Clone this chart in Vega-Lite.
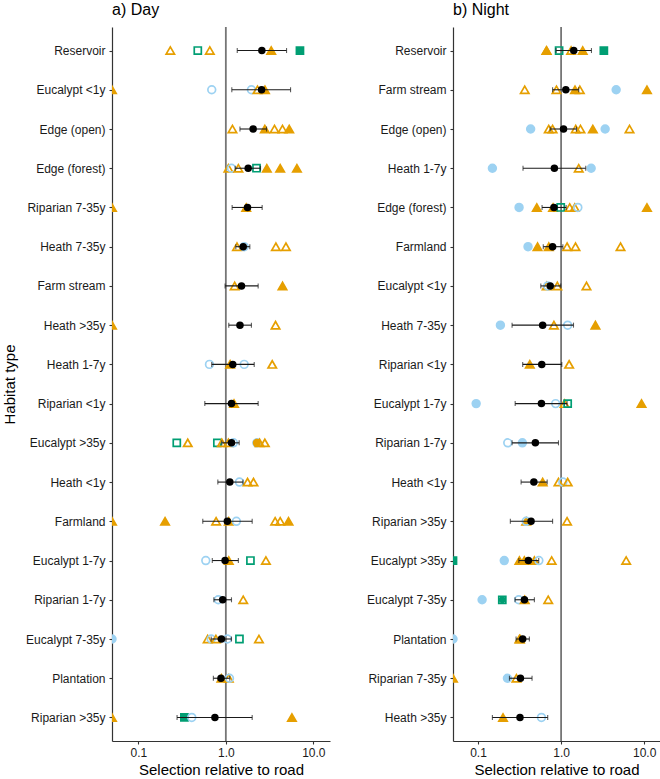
{
  "$schema": "https://vega.github.io/schema/vega-lite/v6.json",
  "background": "white",
  "padding": {"left": 2, "top": 2, "right": 0, "bottom": 0},
  "bounds": "flush",
  "spacing": 123,
  "config": {
    "view": {"stroke": null},
    "font": "Liberation Sans",
    "axis": {"grid": false, "domainColor": "#333333", "domainWidth": 1.2, "tickColor": "#333333", "tickWidth": 1.1, "tickSize": 3, "labelColor": "#1a1a1a", "labelFontSize": 12, "labelFont": "Liberation Sans", "titleFont": "Liberation Sans", "titleFontSize": 15, "titleFontWeight": "normal", "titleColor": "#000000"},
    "title": {"fontSize": 16, "fontWeight": "normal", "anchor": "start", "frame": "group", "font": "Liberation Sans", "color": "#000000", "offset": 8}
  },
  "resolve": {"scale": {"y": "independent", "x": "independent"}},
  "datasets": {
    "day": [
      {"h": "Reservoir", "v": 0.232, "sp": "tri", "k": "open"},
      {"h": "Reservoir", "v": 0.478, "sp": "sq", "k": "open"},
      {"h": "Reservoir", "v": 0.656, "sp": "tri", "k": "open"},
      {"h": "Reservoir", "v": 3.30, "sp": "tri", "k": "filled"},
      {"h": "Reservoir", "v": 7.03, "sp": "sq", "k": "filled"},
      {"h": "Eucalypt <1y", "v": 0.05, "sp": "tri", "k": "filled"},
      {"h": "Eucalypt <1y", "v": 0.69, "sp": "circ", "k": "open"},
      {"h": "Eucalypt <1y", "v": 1.96, "sp": "circ", "k": "open"},
      {"h": "Eucalypt <1y", "v": 2.30, "sp": "tri", "k": "open"},
      {"h": "Eucalypt <1y", "v": 2.80, "sp": "tri", "k": "filled"},
      {"h": "Edge (open)", "v": 1.19, "sp": "tri", "k": "open"},
      {"h": "Edge (open)", "v": 2.79, "sp": "tri", "k": "filled"},
      {"h": "Edge (open)", "v": 3.60, "sp": "tri", "k": "open"},
      {"h": "Edge (open)", "v": 4.44, "sp": "tri", "k": "open"},
      {"h": "Edge (open)", "v": 5.30, "sp": "tri", "k": "filled"},
      {"h": "Edge (forest)", "v": 1.07, "sp": "tri", "k": "open"},
      {"h": "Edge (forest)", "v": 1.16, "sp": "circ", "k": "open"},
      {"h": "Edge (forest)", "v": 1.39, "sp": "tri", "k": "open"},
      {"h": "Edge (forest)", "v": 2.24, "sp": "sq", "k": "open"},
      {"h": "Edge (forest)", "v": 2.94, "sp": "tri", "k": "filled"},
      {"h": "Edge (forest)", "v": 4.18, "sp": "tri", "k": "filled"},
      {"h": "Edge (forest)", "v": 6.49, "sp": "tri", "k": "filled"},
      {"h": "Riparian 7-35y", "v": 0.05, "sp": "tri", "k": "filled"},
      {"h": "Riparian 7-35y", "v": 1.71, "sp": "tri", "k": "filled"},
      {"h": "Heath 7-35y", "v": 1.34, "sp": "tri", "k": "open"},
      {"h": "Heath 7-35y", "v": 1.62, "sp": "circ", "k": "open"},
      {"h": "Heath 7-35y", "v": 3.73, "sp": "tri", "k": "open"},
      {"h": "Heath 7-35y", "v": 4.86, "sp": "tri", "k": "open"},
      {"h": "Farm stream", "v": 1.26, "sp": "tri", "k": "open"},
      {"h": "Farm stream", "v": 4.44, "sp": "tri", "k": "filled"},
      {"h": "Heath >35y", "v": 0.05, "sp": "tri", "k": "filled"},
      {"h": "Heath >35y", "v": 3.70, "sp": "tri", "k": "open"},
      {"h": "Heath 1-7y", "v": 0.65, "sp": "circ", "k": "open"},
      {"h": "Heath 1-7y", "v": 1.12, "sp": "tri", "k": "filled"},
      {"h": "Heath 1-7y", "v": 1.62, "sp": "circ", "k": "open"},
      {"h": "Heath 1-7y", "v": 3.39, "sp": "tri", "k": "open"},
      {"h": "Riparian <1y", "v": 1.24, "sp": "tri", "k": "filled"},
      {"h": "Eucalypt >35y", "v": 0.275, "sp": "sq", "k": "open"},
      {"h": "Eucalypt >35y", "v": 0.367, "sp": "tri", "k": "open"},
      {"h": "Eucalypt >35y", "v": 0.80, "sp": "sq", "k": "open"},
      {"h": "Eucalypt >35y", "v": 0.90, "sp": "tri", "k": "open"},
      {"h": "Eucalypt >35y", "v": 1.07, "sp": "tri", "k": "open"},
      {"h": "Eucalypt >35y", "v": 1.22, "sp": "circ", "k": "open"},
      {"h": "Eucalypt >35y", "v": 2.26, "sp": "circ", "k": "open"},
      {"h": "Eucalypt >35y", "v": 2.26, "sp": "odot", "k": "filled"},
      {"h": "Eucalypt >35y", "v": 2.43, "sp": "tri", "k": "open"},
      {"h": "Eucalypt >35y", "v": 2.79, "sp": "tri", "k": "open"},
      {"h": "Heath <1y", "v": 1.43, "sp": "circ", "k": "open"},
      {"h": "Heath <1y", "v": 1.77, "sp": "tri", "k": "open"},
      {"h": "Heath <1y", "v": 2.07, "sp": "tri", "k": "open"},
      {"h": "Farmland", "v": 0.05, "sp": "tri", "k": "filled"},
      {"h": "Farmland", "v": 0.202, "sp": "tri", "k": "filled"},
      {"h": "Farmland", "v": 0.774, "sp": "tri", "k": "open"},
      {"h": "Farmland", "v": 1.08, "sp": "tri", "k": "filled"},
      {"h": "Farmland", "v": 1.32, "sp": "circ", "k": "open"},
      {"h": "Farmland", "v": 3.66, "sp": "tri", "k": "open"},
      {"h": "Farmland", "v": 4.18, "sp": "tri", "k": "open"},
      {"h": "Farmland", "v": 5.20, "sp": "tri", "k": "filled"},
      {"h": "Eucalypt 1-7y", "v": 0.59, "sp": "circ", "k": "open"},
      {"h": "Eucalypt 1-7y", "v": 1.08, "sp": "tri", "k": "filled"},
      {"h": "Eucalypt 1-7y", "v": 1.91, "sp": "sq", "k": "open"},
      {"h": "Eucalypt 1-7y", "v": 2.87, "sp": "tri", "k": "open"},
      {"h": "Riparian 1-7y", "v": 0.82, "sp": "circ", "k": "open"},
      {"h": "Riparian 1-7y", "v": 1.58, "sp": "tri", "k": "open"},
      {"h": "Eucalypt 7-35y", "v": 0.05, "sp": "circ", "k": "filled"},
      {"h": "Eucalypt 7-35y", "v": 0.62, "sp": "tri", "k": "open"},
      {"h": "Eucalypt 7-35y", "v": 0.68, "sp": "circ", "k": "open"},
      {"h": "Eucalypt 7-35y", "v": 0.77, "sp": "tri", "k": "open"},
      {"h": "Eucalypt 7-35y", "v": 1.04, "sp": "circ", "k": "open"},
      {"h": "Eucalypt 7-35y", "v": 1.43, "sp": "sq", "k": "open"},
      {"h": "Eucalypt 7-35y", "v": 2.39, "sp": "tri", "k": "open"},
      {"h": "Plantation", "v": 0.89, "sp": "tri", "k": "filled"},
      {"h": "Plantation", "v": 1.08, "sp": "tri", "k": "open"},
      {"h": "Plantation", "v": 1.10, "sp": "circ", "k": "open"},
      {"h": "Riparian >35y", "v": 0.05, "sp": "tri", "k": "filled"},
      {"h": "Riparian >35y", "v": 0.336, "sp": "sq", "k": "filled"},
      {"h": "Riparian >35y", "v": 0.408, "sp": "circ", "k": "open"},
      {"h": "Riparian >35y", "v": 5.69, "sp": "tri", "k": "filled"}
    ],
    "dayMean": [
      {"h": "Reservoir", "m": 2.58, "lo": 1.35, "hi": 4.94},
      {"h": "Eucalypt <1y", "m": 2.56, "lo": 1.17, "hi": 5.49},
      {"h": "Edge (open)", "m": 2.05, "lo": 1.45, "hi": 2.92},
      {"h": "Edge (forest)", "m": 1.80, "lo": 1.28, "hi": 2.49},
      {"h": "Riparian 7-35y", "m": 1.77, "lo": 1.18, "hi": 2.60},
      {"h": "Heath 7-35y", "m": 1.58, "lo": 1.30, "hi": 1.88},
      {"h": "Farm stream", "m": 1.51, "lo": 0.98, "hi": 2.34},
      {"h": "Heath >35y", "m": 1.45, "lo": 1.08, "hi": 1.96},
      {"h": "Heath 1-7y", "m": 1.20, "lo": 0.69, "hi": 2.11},
      {"h": "Riparian <1y", "m": 1.16, "lo": 0.575, "hi": 2.34},
      {"h": "Eucalypt >35y", "m": 1.16, "lo": 0.90, "hi": 1.42},
      {"h": "Heath <1y", "m": 1.11, "lo": 0.81, "hi": 1.57},
      {"h": "Farmland", "m": 1.04, "lo": 0.545, "hi": 2.0},
      {"h": "Eucalypt 1-7y", "m": 0.98, "lo": 0.70, "hi": 1.39},
      {"h": "Riparian 1-7y", "m": 0.92, "lo": 0.73, "hi": 1.16},
      {"h": "Eucalypt 7-35y", "m": 0.89, "lo": 0.68, "hi": 1.16},
      {"h": "Plantation", "m": 0.88, "lo": 0.72, "hi": 1.11},
      {"h": "Riparian >35y", "m": 0.75, "lo": 0.277, "hi": 2.0}
    ],
    "night": [
      {"h": "Reservoir", "v": 0.666, "sp": "tri", "k": "filled"},
      {"h": "Reservoir", "v": 0.67, "sp": "tri", "k": "open"},
      {"h": "Reservoir", "v": 0.946, "sp": "sq", "k": "open"},
      {"h": "Reservoir", "v": 1.32, "sp": "tri", "k": "open"},
      {"h": "Reservoir", "v": 1.82, "sp": "tri", "k": "filled"},
      {"h": "Reservoir", "v": 3.27, "sp": "sq", "k": "filled"},
      {"h": "Farm stream", "v": 0.365, "sp": "tri", "k": "open"},
      {"h": "Farm stream", "v": 0.88, "sp": "tri", "k": "open"},
      {"h": "Farm stream", "v": 1.47, "sp": "tri", "k": "filled"},
      {"h": "Farm stream", "v": 1.68, "sp": "tri", "k": "open"},
      {"h": "Farm stream", "v": 4.60, "sp": "circ", "k": "filled"},
      {"h": "Farm stream", "v": 10.8, "sp": "tri", "k": "filled"},
      {"h": "Edge (open)", "v": 0.43, "sp": "circ", "k": "filled"},
      {"h": "Edge (open)", "v": 0.71, "sp": "tri", "k": "open"},
      {"h": "Edge (open)", "v": 0.79, "sp": "tri", "k": "open"},
      {"h": "Edge (open)", "v": 1.50, "sp": "tri", "k": "open"},
      {"h": "Edge (open)", "v": 1.71, "sp": "tri", "k": "open"},
      {"h": "Edge (open)", "v": 2.41, "sp": "tri", "k": "filled"},
      {"h": "Edge (open)", "v": 3.39, "sp": "circ", "k": "filled"},
      {"h": "Edge (open)", "v": 6.66, "sp": "tri", "k": "open"},
      {"h": "Heath 1-7y", "v": 0.149, "sp": "circ", "k": "filled"},
      {"h": "Heath 1-7y", "v": 1.63, "sp": "tri", "k": "open"},
      {"h": "Heath 1-7y", "v": 2.30, "sp": "circ", "k": "filled"},
      {"h": "Edge (forest)", "v": 0.312, "sp": "circ", "k": "filled"},
      {"h": "Edge (forest)", "v": 0.51, "sp": "tri", "k": "filled"},
      {"h": "Edge (forest)", "v": 0.80, "sp": "tri", "k": "filled"},
      {"h": "Edge (forest)", "v": 0.99, "sp": "sq", "k": "open"},
      {"h": "Edge (forest)", "v": 1.27, "sp": "tri", "k": "open"},
      {"h": "Edge (forest)", "v": 1.46, "sp": "tri", "k": "open"},
      {"h": "Edge (forest)", "v": 1.59, "sp": "circ", "k": "open"},
      {"h": "Edge (forest)", "v": 10.8, "sp": "tri", "k": "filled"},
      {"h": "Farmland", "v": 0.40, "sp": "circ", "k": "filled"},
      {"h": "Farmland", "v": 0.52, "sp": "tri", "k": "filled"},
      {"h": "Farmland", "v": 0.71, "sp": "tri", "k": "filled"},
      {"h": "Farmland", "v": 1.18, "sp": "tri", "k": "open"},
      {"h": "Farmland", "v": 1.49, "sp": "tri", "k": "open"},
      {"h": "Farmland", "v": 5.19, "sp": "tri", "k": "open"},
      {"h": "Eucalypt <1y", "v": 0.67, "sp": "tri", "k": "open"},
      {"h": "Eucalypt <1y", "v": 0.69, "sp": "circ", "k": "open"},
      {"h": "Eucalypt <1y", "v": 0.90, "sp": "tri", "k": "open"},
      {"h": "Eucalypt <1y", "v": 2.02, "sp": "tri", "k": "open"},
      {"h": "Heath 7-35y", "v": 0.186, "sp": "circ", "k": "filled"},
      {"h": "Heath 7-35y", "v": 0.82, "sp": "tri", "k": "open"},
      {"h": "Heath 7-35y", "v": 1.20, "sp": "circ", "k": "open"},
      {"h": "Heath 7-35y", "v": 2.59, "sp": "tri", "k": "filled"},
      {"h": "Riparian <1y", "v": 0.42, "sp": "tri", "k": "filled"},
      {"h": "Riparian <1y", "v": 1.25, "sp": "tri", "k": "open"},
      {"h": "Eucalypt 1-7y", "v": 0.095, "sp": "circ", "k": "filled"},
      {"h": "Eucalypt 1-7y", "v": 0.86, "sp": "circ", "k": "open"},
      {"h": "Eucalypt 1-7y", "v": 1.10, "sp": "tri", "k": "open"},
      {"h": "Eucalypt 1-7y", "v": 1.20, "sp": "sq", "k": "open"},
      {"h": "Eucalypt 1-7y", "v": 9.29, "sp": "tri", "k": "filled"},
      {"h": "Riparian 1-7y", "v": 0.228, "sp": "circ", "k": "open"},
      {"h": "Riparian 1-7y", "v": 0.342, "sp": "circ", "k": "filled"},
      {"h": "Heath <1y", "v": 0.60, "sp": "tri", "k": "filled"},
      {"h": "Heath <1y", "v": 0.93, "sp": "tri", "k": "open"},
      {"h": "Heath <1y", "v": 1.05, "sp": "circ", "k": "open"},
      {"h": "Heath <1y", "v": 1.20, "sp": "tri", "k": "open"},
      {"h": "Riparian >35y", "v": 0.38, "sp": "tri", "k": "filled"},
      {"h": "Riparian >35y", "v": 0.38, "sp": "circ", "k": "open"},
      {"h": "Riparian >35y", "v": 1.18, "sp": "tri", "k": "open"},
      {"h": "Eucalypt >35y", "v": 0.05, "sp": "sq", "k": "filled"},
      {"h": "Eucalypt >35y", "v": 0.207, "sp": "circ", "k": "filled"},
      {"h": "Eucalypt >35y", "v": 0.315, "sp": "tri", "k": "filled"},
      {"h": "Eucalypt >35y", "v": 0.361, "sp": "tri", "k": "filled"},
      {"h": "Eucalypt >35y", "v": 0.477, "sp": "tri", "k": "filled"},
      {"h": "Eucalypt >35y", "v": 0.54, "sp": "circ", "k": "open"},
      {"h": "Eucalypt >35y", "v": 0.77, "sp": "tri", "k": "open"},
      {"h": "Eucalypt >35y", "v": 6.07, "sp": "tri", "k": "open"},
      {"h": "Eucalypt 7-35y", "v": 0.112, "sp": "circ", "k": "filled"},
      {"h": "Eucalypt 7-35y", "v": 0.196, "sp": "sq", "k": "open"},
      {"h": "Eucalypt 7-35y", "v": 0.196, "sp": "gdot", "k": "filled"},
      {"h": "Eucalypt 7-35y", "v": 0.309, "sp": "circ", "k": "open"},
      {"h": "Eucalypt 7-35y", "v": 0.365, "sp": "tri", "k": "filled"},
      {"h": "Eucalypt 7-35y", "v": 0.70, "sp": "tri", "k": "open"},
      {"h": "Plantation", "v": 0.05, "sp": "circ", "k": "filled"},
      {"h": "Plantation", "v": 0.315, "sp": "tri", "k": "filled"},
      {"h": "Plantation", "v": 0.32, "sp": "tri", "k": "open"},
      {"h": "Riparian 7-35y", "v": 0.05, "sp": "tri", "k": "filled"},
      {"h": "Riparian 7-35y", "v": 0.226, "sp": "circ", "k": "filled"},
      {"h": "Riparian 7-35y", "v": 0.29, "sp": "tri", "k": "open"},
      {"h": "Heath >35y", "v": 0.20, "sp": "tri", "k": "filled"},
      {"h": "Heath >35y", "v": 0.58, "sp": "circ", "k": "open"}
    ],
    "nightMean": [
      {"h": "Reservoir", "m": 1.42, "lo": 0.87, "hi": 2.32},
      {"h": "Farm stream", "m": 1.14, "lo": 0.79, "hi": 1.63},
      {"h": "Edge (open)", "m": 1.07, "lo": 0.74, "hi": 1.53},
      {"h": "Heath 1-7y", "m": 0.83, "lo": 0.348, "hi": 1.98},
      {"h": "Edge (forest)", "m": 0.82, "lo": 0.59, "hi": 1.15},
      {"h": "Farmland", "m": 0.79, "lo": 0.61, "hi": 1.05},
      {"h": "Eucalypt <1y", "m": 0.74, "lo": 0.57, "hi": 0.99},
      {"h": "Heath 7-35y", "m": 0.60, "lo": 0.257, "hi": 1.41},
      {"h": "Riparian <1y", "m": 0.585, "lo": 0.345, "hi": 1.02},
      {"h": "Eucalypt 1-7y", "m": 0.58, "lo": 0.28, "hi": 1.18},
      {"h": "Riparian 1-7y", "m": 0.49, "lo": 0.257, "hi": 0.93},
      {"h": "Heath <1y", "m": 0.47, "lo": 0.33, "hi": 0.68},
      {"h": "Riparian >35y", "m": 0.435, "lo": 0.245, "hi": 0.79},
      {"h": "Eucalypt >35y", "m": 0.404, "lo": 0.31, "hi": 0.538},
      {"h": "Eucalypt 7-35y", "m": 0.362, "lo": 0.279, "hi": 0.477},
      {"h": "Plantation", "m": 0.345, "lo": 0.287, "hi": 0.415},
      {"h": "Riparian 7-35y", "m": 0.324, "lo": 0.239, "hi": 0.447},
      {"h": "Heath >35y", "m": 0.32, "lo": 0.149, "hi": 0.69}
    ]
  },
  "hconcat": [
    {
      "width": 218,
      "height": 714,
      "title": {"text": "a) Day"},
      "layer": [
        {
          "data": {"values": [{"one": 1}]},
          "mark": {"type": "rule", "color": "#767676", "strokeWidth": 1.8},
          "encoding": {
            "x": {"field": "one", "type": "quantitative", "scale": {"type": "log", "domain": [0.05, 15.5], "nice": false}, "axis": {"values": [0.1, 1, 10], "format": ".1f", "labelPadding": 3, "titlePadding": 4}, "title": "Selection relative to road"}
          }
        },
        {
          "data": {"name": "day"},
          "mark": {"type": "point", "filled": true, "clip": true, "strokeWidth": 1.7, "opacity": 1},
          "encoding": {
            "x": {"field": "v", "type": "quantitative", "scale": {"type": "log", "domain": [0.05, 15.5], "nice": false}, "title": "Selection relative to road"},
            "y": {"field": "h", "type": "nominal", "sort": ["Reservoir", "Eucalypt <1y", "Edge (open)", "Edge (forest)", "Riparian 7-35y", "Heath 7-35y", "Farm stream", "Heath >35y", "Heath 1-7y", "Riparian <1y", "Eucalypt >35y", "Heath <1y", "Farmland", "Eucalypt 1-7y", "Riparian 1-7y", "Eucalypt 7-35y", "Plantation", "Riparian >35y"], "scale": {"type": "point", "padding": 0.6}, "axis": {"labelPadding": 4, "titlePadding": 8}, "title": "Habitat type"},
            "shape": {"field": "sp", "type": "nominal", "scale": {"domain": ["tri", "circ", "sq", "odot", "gdot"], "range": ["triangle-up", "circle", "square", "circle", "circle"]}, "legend": null},
            "fill": {"field": "sp", "type": "nominal", "scale": {"domain": ["tri", "circ", "sq", "odot", "gdot"], "range": ["#E69F00", "#9DD2F2", "#009E73", "#E69F00", "#009E73"]}, "legend": null},
            "stroke": {"field": "sp", "type": "nominal", "scale": {"domain": ["tri", "circ", "sq", "odot", "gdot"], "range": ["#E69F00", "#9DD2F2", "#009E73", "#E69F00", "#009E73"]}, "legend": null},
            "fillOpacity": {"field": "k", "type": "nominal", "scale": {"domain": ["filled", "open"], "range": [1, 0]}, "legend": null},
            "size": {"field": "sp", "type": "nominal", "scale": {"domain": ["tri", "circ", "sq", "odot", "gdot"], "range": [70, 30, 30, 2, 2]}, "legend": null}
          }
        },
        {
          "data": {"name": "dayMean"},
          "mark": {"type": "rule", "color": "#1a1a1a", "strokeWidth": 1.1},
          "encoding": {
            "x": {"field": "lo", "type": "quantitative", "scale": {"type": "log", "domain": [0.05, 15.5], "nice": false}},
            "x2": {"field": "hi"},
            "y": {"field": "h", "type": "nominal", "sort": ["Reservoir", "Eucalypt <1y", "Edge (open)", "Edge (forest)", "Riparian 7-35y", "Heath 7-35y", "Farm stream", "Heath >35y", "Heath 1-7y", "Riparian <1y", "Eucalypt >35y", "Heath <1y", "Farmland", "Eucalypt 1-7y", "Riparian 1-7y", "Eucalypt 7-35y", "Plantation", "Riparian >35y"]}
          }
        },
        {
          "data": {"name": "dayMean"},
          "mark": {"type": "tick", "color": "#1a1a1a", "thickness": 1.1, "size": 5, "orient": "vertical"},
          "encoding": {
            "x": {"field": "lo", "type": "quantitative"},
            "y": {"field": "h", "type": "nominal", "sort": ["Reservoir", "Eucalypt <1y", "Edge (open)", "Edge (forest)", "Riparian 7-35y", "Heath 7-35y", "Farm stream", "Heath >35y", "Heath 1-7y", "Riparian <1y", "Eucalypt >35y", "Heath <1y", "Farmland", "Eucalypt 1-7y", "Riparian 1-7y", "Eucalypt 7-35y", "Plantation", "Riparian >35y"]}
          }
        },
        {
          "data": {"name": "dayMean"},
          "mark": {"type": "tick", "color": "#1a1a1a", "thickness": 1.1, "size": 5, "orient": "vertical"},
          "encoding": {
            "x": {"field": "hi", "type": "quantitative"},
            "y": {"field": "h", "type": "nominal", "sort": ["Reservoir", "Eucalypt <1y", "Edge (open)", "Edge (forest)", "Riparian 7-35y", "Heath 7-35y", "Farm stream", "Heath >35y", "Heath 1-7y", "Riparian <1y", "Eucalypt >35y", "Heath <1y", "Farmland", "Eucalypt 1-7y", "Riparian 1-7y", "Eucalypt 7-35y", "Plantation", "Riparian >35y"]}
          }
        },
        {
          "data": {"name": "dayMean"},
          "mark": {"type": "circle", "color": "#000000", "size": 56, "opacity": 1},
          "encoding": {
            "x": {"field": "m", "type": "quantitative"},
            "y": {"field": "h", "type": "nominal", "sort": ["Reservoir", "Eucalypt <1y", "Edge (open)", "Edge (forest)", "Riparian 7-35y", "Heath 7-35y", "Farm stream", "Heath >35y", "Heath 1-7y", "Riparian <1y", "Eucalypt >35y", "Heath <1y", "Farmland", "Eucalypt 1-7y", "Riparian 1-7y", "Eucalypt 7-35y", "Plantation", "Riparian >35y"]}
          }
        }
      ]
    },
    {
      "width": 207,
      "height": 714,
      "title": {"text": "b) Night"},
      "layer": [
        {
          "data": {"values": [{"one": 1}]},
          "mark": {"type": "rule", "color": "#767676", "strokeWidth": 1.8},
          "encoding": {
            "x": {"field": "one", "type": "quantitative", "scale": {"type": "log", "domain": [0.05, 15.5], "nice": false}, "axis": {"values": [0.1, 1, 10], "format": ".1f", "labelPadding": 3, "titlePadding": 4}, "title": "Selection relative to road"}
          }
        },
        {
          "data": {"name": "night"},
          "mark": {"type": "point", "filled": true, "clip": true, "strokeWidth": 1.7, "opacity": 1},
          "encoding": {
            "x": {"field": "v", "type": "quantitative", "scale": {"type": "log", "domain": [0.05, 15.5], "nice": false}, "title": "Selection relative to road"},
            "y": {"field": "h", "type": "nominal", "sort": ["Reservoir", "Farm stream", "Edge (open)", "Heath 1-7y", "Edge (forest)", "Farmland", "Eucalypt <1y", "Heath 7-35y", "Riparian <1y", "Eucalypt 1-7y", "Riparian 1-7y", "Heath <1y", "Riparian >35y", "Eucalypt >35y", "Eucalypt 7-35y", "Plantation", "Riparian 7-35y", "Heath >35y"], "scale": {"type": "point", "padding": 0.6}, "axis": {"labelPadding": 4}, "title": null},
            "shape": {"field": "sp", "type": "nominal", "scale": {"domain": ["tri", "circ", "sq", "odot", "gdot"], "range": ["triangle-up", "circle", "square", "circle", "circle"]}, "legend": null},
            "fill": {"field": "sp", "type": "nominal", "scale": {"domain": ["tri", "circ", "sq", "odot", "gdot"], "range": ["#E69F00", "#9DD2F2", "#009E73", "#E69F00", "#009E73"]}, "legend": null},
            "stroke": {"field": "sp", "type": "nominal", "scale": {"domain": ["tri", "circ", "sq", "odot", "gdot"], "range": ["#E69F00", "#9DD2F2", "#009E73", "#E69F00", "#009E73"]}, "legend": null},
            "fillOpacity": {"field": "k", "type": "nominal", "scale": {"domain": ["filled", "open"], "range": [1, 0]}, "legend": null},
            "size": {"field": "sp", "type": "nominal", "scale": {"domain": ["tri", "circ", "sq", "odot", "gdot"], "range": [70, 30, 30, 2, 2]}, "legend": null}
          }
        },
        {
          "data": {"name": "nightMean"},
          "mark": {"type": "rule", "color": "#1a1a1a", "strokeWidth": 1.1},
          "encoding": {
            "x": {"field": "lo", "type": "quantitative", "scale": {"type": "log", "domain": [0.05, 15.5], "nice": false}},
            "x2": {"field": "hi"},
            "y": {"field": "h", "type": "nominal", "sort": ["Reservoir", "Farm stream", "Edge (open)", "Heath 1-7y", "Edge (forest)", "Farmland", "Eucalypt <1y", "Heath 7-35y", "Riparian <1y", "Eucalypt 1-7y", "Riparian 1-7y", "Heath <1y", "Riparian >35y", "Eucalypt >35y", "Eucalypt 7-35y", "Plantation", "Riparian 7-35y", "Heath >35y"]}
          }
        },
        {
          "data": {"name": "nightMean"},
          "mark": {"type": "tick", "color": "#1a1a1a", "thickness": 1.1, "size": 5, "orient": "vertical"},
          "encoding": {
            "x": {"field": "lo", "type": "quantitative"},
            "y": {"field": "h", "type": "nominal", "sort": ["Reservoir", "Farm stream", "Edge (open)", "Heath 1-7y", "Edge (forest)", "Farmland", "Eucalypt <1y", "Heath 7-35y", "Riparian <1y", "Eucalypt 1-7y", "Riparian 1-7y", "Heath <1y", "Riparian >35y", "Eucalypt >35y", "Eucalypt 7-35y", "Plantation", "Riparian 7-35y", "Heath >35y"]}
          }
        },
        {
          "data": {"name": "nightMean"},
          "mark": {"type": "tick", "color": "#1a1a1a", "thickness": 1.1, "size": 5, "orient": "vertical"},
          "encoding": {
            "x": {"field": "hi", "type": "quantitative"},
            "y": {"field": "h", "type": "nominal", "sort": ["Reservoir", "Farm stream", "Edge (open)", "Heath 1-7y", "Edge (forest)", "Farmland", "Eucalypt <1y", "Heath 7-35y", "Riparian <1y", "Eucalypt 1-7y", "Riparian 1-7y", "Heath <1y", "Riparian >35y", "Eucalypt >35y", "Eucalypt 7-35y", "Plantation", "Riparian 7-35y", "Heath >35y"]}
          }
        },
        {
          "data": {"name": "nightMean"},
          "mark": {"type": "circle", "color": "#000000", "size": 56, "opacity": 1},
          "encoding": {
            "x": {"field": "m", "type": "quantitative"},
            "y": {"field": "h", "type": "nominal", "sort": ["Reservoir", "Farm stream", "Edge (open)", "Heath 1-7y", "Edge (forest)", "Farmland", "Eucalypt <1y", "Heath 7-35y", "Riparian <1y", "Eucalypt 1-7y", "Riparian 1-7y", "Heath <1y", "Riparian >35y", "Eucalypt >35y", "Eucalypt 7-35y", "Plantation", "Riparian 7-35y", "Heath >35y"]}
          }
        }
      ]
    }
  ]
}
